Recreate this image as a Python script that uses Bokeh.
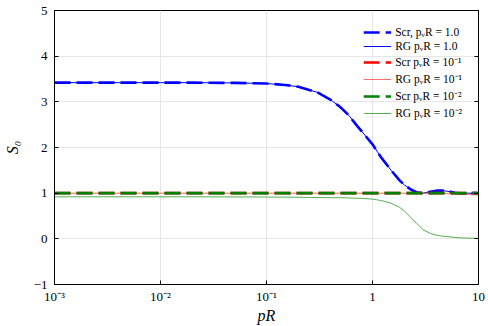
from bokeh.plotting import figure
from bokeh.models import FixedTicker, LinearAxis, Legend, LegendItem, Range1d
from bokeh.embed import file_html
from bokeh.resources import INLINE

# ---- data ----
pR = [0.001, 0.002, 0.005, 0.01, 0.02, 0.05, 0.1, 0.15, 0.2, 0.3, 0.4, 0.5, 0.6, 0.7, 0.8,
      1.0, 1.2, 1.5, 1.8, 2.0, 2.3, 2.6, 3.0, 3.5, 4.0, 4.5, 5.0, 6.0, 7.0, 8.0, 10.0]

scr_1 = [3.42, 3.42, 3.42, 3.42, 3.42, 3.415, 3.40, 3.37, 3.33, 3.21, 3.05, 2.88, 2.70, 2.50, 2.34,
         2.07, 1.79, 1.50, 1.28, 1.18, 1.08, 1.02, 1.00, 1.03, 1.055, 1.06, 1.05, 1.01, 0.99, 1.00, 1.00]
rg_1 = [3.42, 3.42, 3.42, 3.42, 3.42, 3.415, 3.40, 3.37, 3.33, 3.21, 3.05, 2.88, 2.70, 2.50, 2.34,
        2.07, 1.79, 1.50, 1.28, 1.18, 1.08, 1.02, 1.00, 1.03, 1.05, 1.055, 1.045, 1.01, 0.99, 1.00, 0.99]
scr_01 = [1.0] * 31
rg_01 = [1.0, 1.0, 1.0, 1.0, 1.0, 1.0, 1.0, 1.0, 1.0, 1.0, 1.0, 1.0, 1.0, 1.0, 1.0,
         1.0, 1.0, 1.0, 1.0, 1.0, 1.0, 1.0, 1.0, 1.0, 0.998, 0.995, 0.99, 0.985, 0.975, 0.97, 0.96]
scr_001 = [1.0] * 31
rg_001 = [0.92, 0.92, 0.92, 0.92, 0.92, 0.918, 0.915, 0.913, 0.91, 0.905, 0.90, 0.90, 0.895, 0.89, 0.885,
          0.87, 0.84, 0.78, 0.69, 0.61, 0.47, 0.34, 0.20, 0.12, 0.08, 0.06, 0.05, 0.03, 0.02, 0.015, 0.01]

x_ticks = [0.001, 0.01, 0.1, 1, 10]
x_tick_labels = ["10⁻³", "10⁻²", "10⁻¹", "1", "10"]
y_ticks = [-1, 0, 1, 2, 3, 4, 5]
y_tick_labels = ["−1", "0", "1", "2", "3", "4", "5"]

labels = ["Scr, pᵥR = 1.0", "RG pᵥR = 1.0", "Scr pᵥR = 10⁻¹", "RG pᵥR = 10⁻¹",
          "Scr pᵥR = 10⁻²", "RG pᵥR = 10⁻²"]

FONT = "Liberation Serif"

p = figure(width=488, height=326, x_axis_type="log", output_backend="svg",
           toolbar_location=None, x_range=Range1d(0.001, 10), y_range=Range1d(-1, 5),
           min_border_left=50, min_border_right=10, min_border_top=10, min_border_bottom=42)

p.outline_line_color = "black"
p.outline_line_width = 1
p.background_fill_color = "white"
p.border_fill_color = "white"

r1 = p.line(pR, scr_1, color="#0000ff", line_width=2.6, line_dash="16 6")
r2 = p.line(pR, rg_1, color="#0000ff", line_width=1)
r3 = p.line(pR, scr_01, color="#ff0000", line_width=2.6, line_dash="16 6")
r4 = p.line(pR, rg_01, color="#ff3030", line_width=1, line_alpha=0.7)
r5 = p.line(pR, scr_001, color="#008000", line_width=2.6, line_dash="16 6")
r6 = p.line(pR, rg_001, color="#2a9a2a", line_width=1, line_alpha=0.8)

legend = Legend(items=[LegendItem(label=l, renderers=[r]) for l, r in
                       zip(labels, [r1, r2, r3, r4, r5, r6])],
                location="top_right")
legend.background_fill_alpha = 0
legend.border_line_alpha = 0
legend.label_text_font = FONT
legend.label_text_font_size = "11.5px"
legend.label_text_color = "black"
legend.glyph_width = 28
legend.glyph_height = 12
legend.label_height = 12
legend.spacing = 2
legend.label_standoff = 4
legend.margin = 10
legend.padding = 6
p.add_layout(legend)

for ax in [p.xaxis[0], p.yaxis[0]]:
    ax.major_label_text_font = FONT
    ax.major_label_text_font_size = "13px"
    ax.major_label_text_color = "black"
    ax.axis_label_text_font = FONT
    ax.axis_label_text_font_style = "italic"
    ax.axis_label_text_font_size = "16px"
    ax.axis_label_text_color = "black"
    ax.major_tick_in = 4
    ax.major_tick_out = 0
    ax.minor_tick_in = 0
    ax.minor_tick_out = 0
    ax.axis_line_color = "black"

p.xaxis.ticker = FixedTicker(ticks=x_ticks)
p.xaxis.major_label_overrides = {t: l for t, l in zip(x_ticks, x_tick_labels)}
p.xaxis.axis_label = "pR"
p.xaxis.axis_label_standoff = 0
p.xaxis.major_label_standoff = 4

p.yaxis.ticker = FixedTicker(ticks=y_ticks)
p.yaxis.major_label_overrides = {t: l for t, l in zip(y_ticks, y_tick_labels)}
p.yaxis.axis_label = "S₀"
p.yaxis.axis_label_standoff = 10
p.yaxis.major_label_standoff = 7

right = LinearAxis(ticker=FixedTicker(ticks=y_ticks), major_label_text_font_size="0px",
                   major_tick_in=4, major_tick_out=0, minor_tick_in=0, minor_tick_out=0,
                   major_label_standoff=0)
right.major_label_text_alpha = 0
p.add_layout(right, "right")

p.xgrid.ticker = FixedTicker(ticks=x_ticks)
p.ygrid.ticker = FixedTicker(ticks=y_ticks)
p.grid.grid_line_color = "#e6e6e6"
p.grid.grid_line_width = 1

open("out.html", "w").write(file_html(p, INLINE))
